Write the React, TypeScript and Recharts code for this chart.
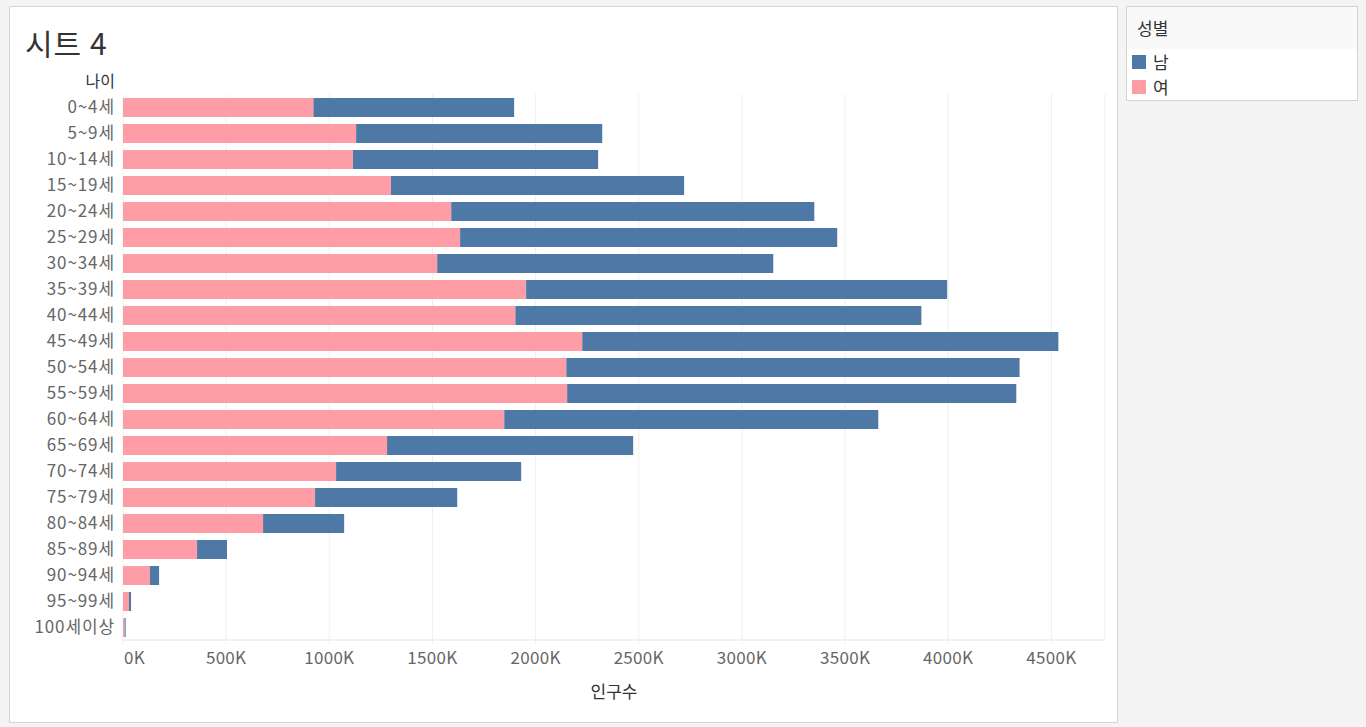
import { Bar, BarChart, CartesianGrid, XAxis, YAxis } from "recharts";

const ages = [
  "0~4세", "5~9세", "10~14세", "15~19세", "20~24세", "25~29세", "30~34세",
  "35~39세", "40~44세", "45~49세", "50~54세", "55~59세", "60~64세", "65~69세",
  "70~74세", "75~79세", "80~84세", "85~89세", "90~94세", "95~99세", "100세이상",
];
// 여 (pink, drawn first) and 남 (blue, stacked after), in thousands
const female = [923, 1130, 1115, 1299, 1591, 1634, 1523, 1954, 1902, 2226, 2149, 2153, 1848, 1280, 1033, 931, 679, 359, 131, 29, 8];
const male = [973, 1193, 1188, 1421, 1760, 1828, 1629, 2041, 1968, 2308, 2197, 2177, 1813, 1193, 897, 689, 393, 145, 44, 10, 5];
const xTicks = [0, 500000, 1000000, 1500000, 2000000, 2500000, 3000000, 3500000, 4000000, 4500000];

const BLUE = "#4e79a7";
const PINK = "#ff9da7";
const FONT = "'Noto Sans CJK KR', 'Noto Sans', sans-serif";

const data = ages.map((age, i) => ({
  age,
  female: female[i] * 1000,
  male: male[i] * 1000,
}));

const YTick = ({ x, y, payload }: any) => (
  <text x={x} y={y} dy="0.35em" textAnchor="end" fill="#666" fontSize={17} letterSpacing={0.9} fontFamily={FONT}>
    {payload.value}
  </text>
);

const XTick = ({ x, y, payload, index }: any) => (
  <text
    x={index === 0 ? x + 1 : x}
    y={y}
    dy="0.71em"
    textAnchor={index === 0 ? "start" : "middle"}
    fill="#666"
    fontSize={17}
    letterSpacing={0.3}
    fontFamily={FONT}
  >
    {`${Math.round(payload.value / 1000)}K`}
  </text>
);

export default function App() {
  return (
    <div style={{ position: "fixed", left: 0, top: 0, width: 1366, height: 727, background: "#f4f4f4", fontFamily: FONT }}>
      <div
        style={{
          position: "absolute",
          left: 9,
          top: 6,
          width: 1107,
          height: 715,
          background: "#fff",
          border: "1px solid #d4d4d4",
        }}
      />
      <div style={{ position: "absolute", left: 25, top: 20, fontSize: 30, color: "#333", letterSpacing: 1 }}>시트 4</div>
      <div style={{ position: "absolute", right: 1366 - 115, top: 72, fontSize: 16, lineHeight: "16px", color: "#333" }}>
        나이
      </div>
      <div style={{ position: "absolute", left: 0, top: 0 }}>
        <BarChart
          width={1117}
          height={727}
          data={data}
          layout="vertical"
          margin={{ top: 94, right: 12, bottom: 26, left: 0 }}
        >
          <CartesianGrid horizontal={false} stroke="#efefef" />
          <XAxis
            type="number"
            domain={[0, 4760000]}
            ticks={xTicks}
            allowDataOverflow
            height={61}
            tick={<XTick />}
            tickSize={4}
            tickMargin={8}
            tickLine={{ stroke: "#efefef" }}
            axisLine={{ stroke: "#e4e4e4" }}
            label={{ value: "인구수", position: "insideBottom", offset: 3, fill: "#333", fontSize: 17, fontFamily: FONT }}
          />
          <YAxis
            type="category"
            dataKey="age"
            width={123}
            tick={<YTick />}
            tickSize={0}
            tickMargin={8}
            tickLine={false}
            axisLine={false}
            interval={0}
          />
          <Bar dataKey="female" name="여" stackId="a" fill={PINK} barSize={19} isAnimationActive={false} />
          <Bar dataKey="male" name="남" stackId="a" fill={BLUE} barSize={19} isAnimationActive={false} />
        </BarChart>
      </div>
      <div
        style={{
          position: "absolute",
          left: 1126,
          top: 6,
          width: 230,
          height: 93,
          background: "#fff",
          border: "1px solid #d4d4d4",
        }}
      >
        <div style={{ height: 42, background: "#f9f9f9", fontSize: 17, color: "#333", paddingLeft: 10, lineHeight: "42px" }}>
          성별
        </div>
        {[
          { label: "남", color: BLUE },
          { label: "여", color: PINK },
        ].map((item) => (
          <div key={item.label} style={{ display: "flex", alignItems: "center", height: 25, paddingLeft: 5 }}>
            <div style={{ width: 14, height: 14, background: item.color }} />
            <span style={{ marginLeft: 7, fontSize: 17, color: "#333" }}>{item.label}</span>
          </div>
        ))}
      </div>
    </div>
  );
}
